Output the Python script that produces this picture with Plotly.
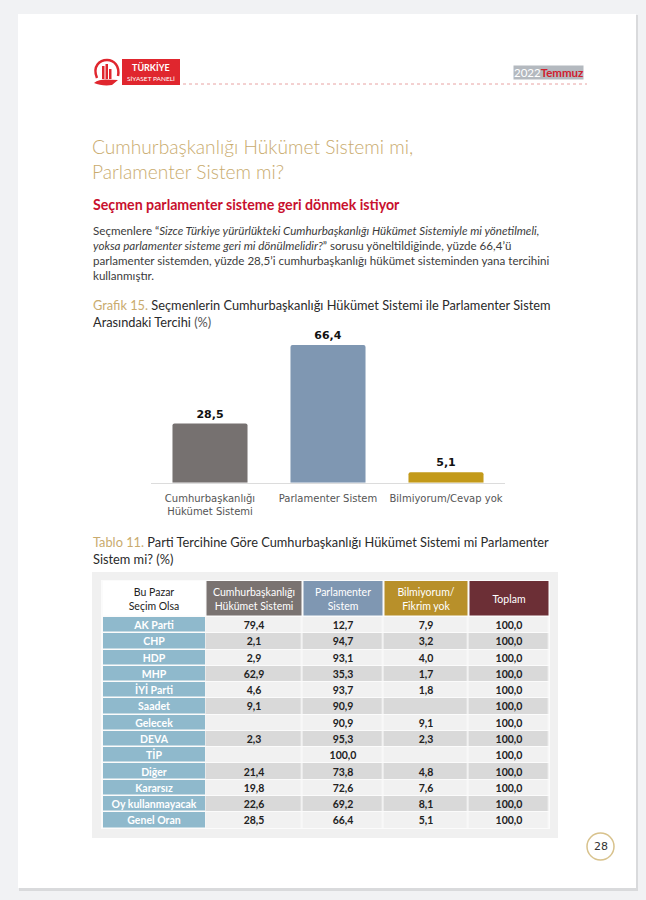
import plotly.graph_objects as go

W, H = 646, 900

# ---------------- data ----------------
bar_categories = ["Cumhurbaşkanlığı<br>Hükümet Sistemi", "Parlamenter Sistem", "Bilmiyorum/Cevap yok"]
bar_values = [28.5, 66.4, 5.1]
bar_colors = ["#767170", "#7f97b2", "#c39a1a"]

table_header = ["Bu Pazar<br>Seçim Olsa", "Cumhurbaşkanlığı<br>Hükümet Sistemi", "Parlamenter<br>Sistem",
                "Bilmiyorum/<br>Fikrim yok", "Toplam"]
header_colors = ["#ffffff", "#7a7371", "#7f97b2", "#b8902a", "#6c2f36"]
parties = ["AK Parti", "CHP", "HDP", "MHP", "İYİ Parti", "Saadet", "Gelecek", "DEVA", "TİP",
           "Diğer", "Kararsız", "Oy kullanmayacak", "Genel Oran"]
cb_system = [79.4, 2.1, 2.9, 62.9, 4.6, 9.1, None, 2.3, None, 21.4, 19.8, 22.6, 28.5]
parl_system = [12.7, 94.7, 93.1, 35.3, 93.7, 90.9, 90.9, 95.3, 100.0, 73.8, 72.6, 69.2, 66.4]
dont_know = [7.9, 3.2, 4.0, 1.7, 1.8, None, 9.1, 2.3, None, 4.8, 7.6, 8.1, 5.1]
total = [100.0] * 13


def fmt(v):
    return "" if v is None else f"{v:.1f}".replace(".", ",")


def px(x):
    return x / W


def py(y):
    return 1 - y / H


fig = go.Figure()

# ---------------- bar chart ----------------
fig.add_trace(go.Bar(
    x=bar_categories, y=bar_values,
    marker=dict(color=bar_colors, line=dict(width=0)),
    text=[fmt(v) for v in bar_values], textposition="outside",
    textfont=dict(family="DejaVu Sans", size=11, color="#111111", weight="bold"),
    cliponaxis=False, hoverinfo="skip", xaxis="x", yaxis="y",
))

# ---------------- table (heatmap cells on a pixel-unit axis) ----------------
n = len(parties)
col_edges = [102, 205.5, 302, 383.5, 468.5, 549]
T_TOP, H_BOT, T_BOT = 581, 617, 828.5
row_h = (T_BOT - H_BOT) / n
row_edges = [H_BOT + i * row_h for i in range(n + 1)]
light, dark = "#f1f1f1", "#d9d9d9"

cell_font = dict(family="Lato", size=10.5, weight="bold")


def steps(colors):
    k = len(colors)
    cs = []
    for i, c in enumerate(colors):
        cs += [[i / k, c], [(i + 1) / k, c]]
    return cs


# header, first column
fig.add_trace(go.Heatmap(
    x=col_edges[:2], y=[T_TOP, H_BOT], z=[[0.5]], zmin=0, zmax=1,
    colorscale=steps([header_colors[0]]), showscale=False, xgap=2, ygap=1.5,
    text=[[table_header[0]]], texttemplate="%{text}",
    textfont=dict(family="Lato", size=10.5, color="#222222"),
    hoverinfo="skip", xaxis="x2", yaxis="y2"))
# header, value columns
fig.add_trace(go.Heatmap(
    x=col_edges[1:], y=[T_TOP, H_BOT], z=[[0.5, 1.5, 2.5, 3.5]], zmin=0, zmax=4,
    colorscale=steps(header_colors[1:]), showscale=False, xgap=2, ygap=1.5,
    text=[table_header[1:]], texttemplate="%{text}",
    textfont=dict(family="Lato", size=10.5, color="white"),
    hoverinfo="skip", xaxis="x2", yaxis="y2"))
# body, party column
fig.add_trace(go.Heatmap(
    x=col_edges[:2], y=row_edges, z=[[0.5] for _ in parties], zmin=0, zmax=1,
    colorscale=steps(["#8fb9cc"]), showscale=False, xgap=2, ygap=1.5,
    text=[[p] for p in parties], texttemplate="%{text}",
    textfont=dict(cell_font, color="white"),
    hoverinfo="skip", xaxis="x2", yaxis="y2"))
# body, values
body_text = [[fmt(a), fmt(b), fmt(c), fmt(d)] for a, b, c, d in zip(cb_system, parl_system, dont_know, total)]
fig.add_trace(go.Heatmap(
    x=col_edges[1:], y=row_edges, z=[[(i % 2) + 0.5] * 4 for i in range(n)], zmin=0, zmax=2,
    colorscale=steps([light, dark]), showscale=False, xgap=1.5, ygap=1,
    text=body_text, texttemplate="%{text}",
    textfont=dict(cell_font, color="#222222"),
    hoverinfo="skip", xaxis="x2", yaxis="y2"))

shapes = []
# page background and shadow
shapes.append(dict(type="rect", xref="paper", yref="paper", x0=px(19), x1=px(638), y0=py(891), y1=py(15),
                   fillcolor="#d9dadc", line=dict(width=0), layer="below"))
shapes.append(dict(type="rect", xref="paper", yref="paper", x0=px(18), x1=px(636), y0=py(888), y1=py(14),
                   fillcolor="#ffffff", line=dict(width=0), layer="below"))
# table container + light grid under the cells
shapes.append(dict(type="rect", xref="paper", yref="paper", x0=px(92), x1=px(558), y0=py(838), y1=py(572),
                   fillcolor="#f0f0f0", line=dict(width=0), layer="below"))
shapes.append(dict(type="rect", xref="paper", yref="paper", x0=px(101), x1=px(550), y0=py(829), y1=py(580),
                   fillcolor="#fbfbfb", line=dict(width=0), layer="below"))
# logo
shapes.append(dict(type="rect", xref="paper", yref="paper", x0=px(122), x1=px(180), y0=py(85), y1=py(59),
                   fillcolor="#e0262e", line=dict(width=0), layer="below"))
shapes.append(dict(type="path", xref="paper", yref="paper",
                   path=f"M {px(97)},{py(78)} C {px(92)},{py(66)} {px(100)},{py(60)} {px(107)},{py(60)} "
                        f"C {px(114)},{py(60)} {px(120)},{py(66)} {px(118)},{py(76)}",
                   line=dict(color="#e0262e", width=2.5), layer="below"))
for x0, x1, y0 in [(102, 104.5, 66), (105.5, 108, 64), (109, 111.5, 69)]:
    shapes.append(dict(type="rect", xref="paper", yref="paper", x0=px(x0), x1=px(x1), y0=py(79), y1=py(y0),
                       fillcolor="#e0262e", line=dict(width=0), layer="below"))
shapes.append(dict(type="path", xref="paper", yref="paper",
                   path=f"M {px(94)},{py(83)} C {px(100)},{py(78)} {px(108)},{py(80)} {px(118)},{py(80)} "
                        f"L {px(112)},{py(85)} C {px(105)},{py(86)} {px(99)},{py(85)} {px(94)},{py(83)} Z",
                   fillcolor="#e0262e", line=dict(width=0), layer="below"))
# dotted header line
shapes.append(dict(type="line", xref="paper", yref="paper", x0=px(183), x1=px(587), y0=py(84), y1=py(84),
                   line=dict(color="#e8a2a2", width=1, dash="dot"), layer="below"))
# page number circle
shapes.append(dict(type="circle", xref="paper", yref="paper", x0=px(587), x1=px(614), y0=py(860), y1=py(833),
                   line=dict(color="#d8c28c", width=1.5), fillcolor="white", layer="below"))
fig.update_layout(shapes=shapes)

ann = []


def text(x, y, s, size, color="#333333", family="Lato", xanchor="left", weight="normal", **kw):
    ann.append(dict(x=px(x), y=py(y), xref="paper", yref="paper", text=s, showarrow=False,
                    xanchor=xanchor, yanchor="middle", align="left",
                    font=dict(family=family, size=size, color=color, weight=weight), **kw))


gold = "#c9ab6e"
text(151, 67, "TÜRKİYE", 9, "white", weight="bold", xanchor="center")
text(151, 78, "SİYASET PANELİ", 6.5, "white", xanchor="center")
text(548, 72.5, "<span style='color:white'>2022</span><b style='color:#d0202e'>Temmuz</b>", 11.5, "white",
     xanchor="center", bgcolor="#b4b9bf", borderpad=0)

text(90, 158.5, "Cumhurbaşkanlığı Hükümet Sistemi mi,<br>Parlamenter Sistem mi?", 19.2, gold, weight=300)
text(91, 205, "Seçmen parlamenter sisteme geri dönmek istiyor", 14.2, "#c8102e", weight="bold")
body = [
    "Seçmenlere “<i>Sizce Türkiye yürürlükteki Cumhurbaşkanlığı Hükümet Sistemiyle mi yönetilmeli,</i>",
    "<i>yoksa parlamenter sisteme geri mi dönülmelidir?</i>” sorusu yöneltildiğinde, yüzde 66,4’ü",
    "parlamenter sistemden, yüzde 28,5’i cumhurbaşkanlığı hükümet sisteminden yana tercihini",
    "kullanmıştır.",
]
text(91, 252.5, "<br>".join(body), 11.6, "#3c3c3c")

text(91, 313.5, f"<span style='color:{gold}'>Grafik 15.</span> Seçmenlerin Cumhurbaşkanlığı Hükümet Sistemi ile Parlamenter Sistem"
     "<br>Arasındaki Tercihi <span style='color:#555'>(%)</span>", 12.8, "#2a2a2a")

text(91, 550, f"<span style='color:{gold}'>Tablo 11.</span> Parti Tercihine Göre Cumhurbaşkanlığı Hükümet Sistemi mi Parlamenter"
     "<br>Sistem mi? (%)", 12.8, "#2a2a2a")

text(600.5, 846.5, "28", 11, "#333333", family="DejaVu Sans", xanchor="center")

fig.update_layout(
    annotations=ann,
    width=W, height=H, margin=dict(l=0, r=0, t=0, b=0),
    paper_bgcolor="#f1f2f4", plot_bgcolor="rgba(0,0,0,0)",
    showlegend=False, bargap=0.364,
    barcornerradius=2,
    xaxis=dict(domain=[px(151), px(505)], showline=True, linecolor="#dcdcdc", linewidth=1,
               showgrid=False, zeroline=False, ticks="", fixedrange=True, ticklabelstandoff=6,
               tickfont=dict(family="DejaVu Sans", size=10, color="#555555")),
    yaxis=dict(domain=[py(482.7), py(327.2)], range=[0, 75], visible=False, fixedrange=True),
    xaxis2=dict(domain=[px(col_edges[0]), px(col_edges[-1])], range=[col_edges[0], col_edges[-1]],
                visible=False, fixedrange=True, anchor="y2"),
    yaxis2=dict(domain=[py(T_BOT), py(T_TOP)], range=[T_BOT, T_TOP],
                visible=False, fixedrange=True, anchor="x2"),
)

fig.write_html("out.html", config={"displayModeBar": False},
               post_script="document.body.style.margin='0';document.body.style.overflow='hidden';")
